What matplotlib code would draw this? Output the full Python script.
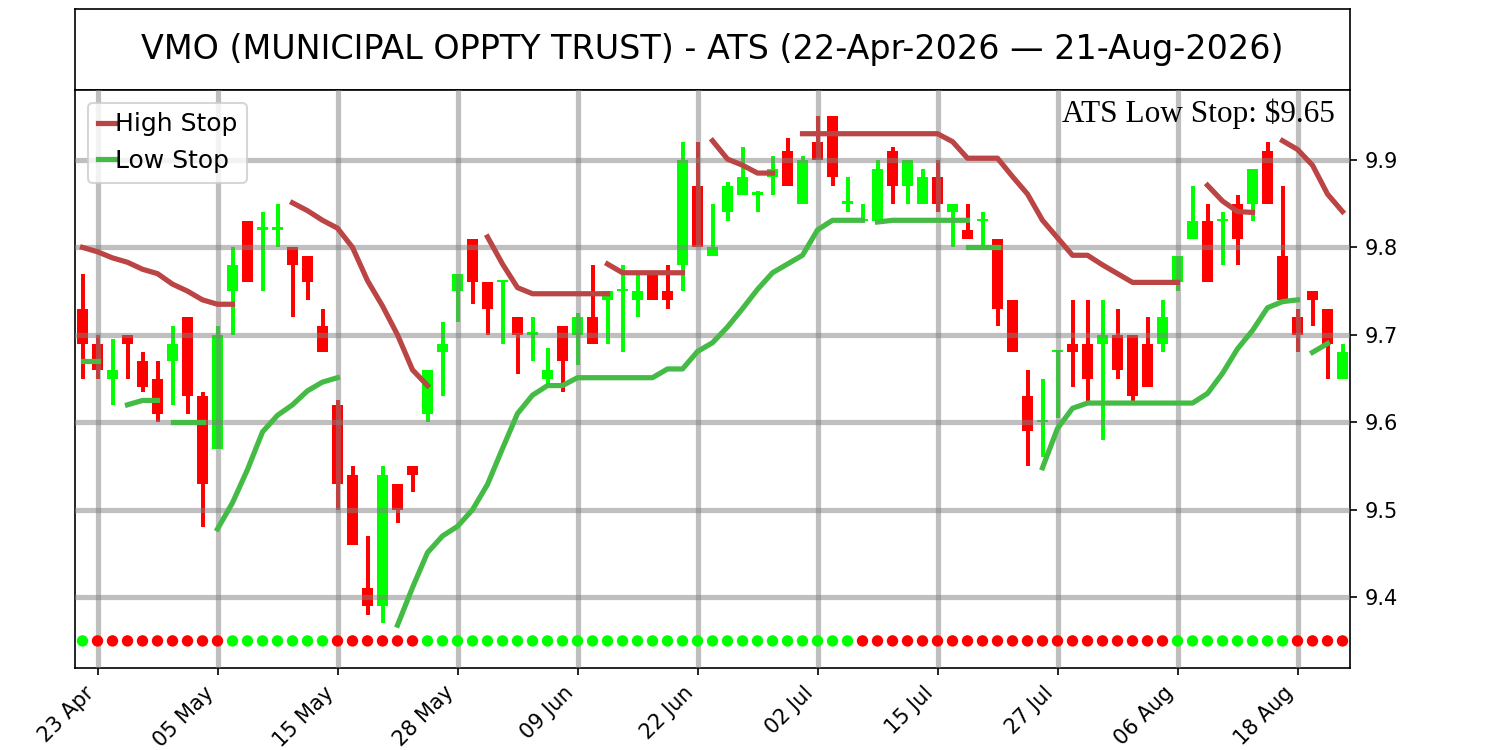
import matplotlib
matplotlib.use("Agg")
import matplotlib.pyplot as plt

# OHLC per trading day, 22-Apr-2026 .. 21-Aug-2026 (85 bars)
opens = [9.73, 9.69, 9.65, 9.70, 9.67, 9.65, 9.67, 9.72, 9.63, 9.57,
         9.75, 9.83, 9.82, 9.82, 9.80, 9.79, 9.71, 9.62, 9.54, 9.41,
         9.39, 9.53, 9.55, 9.61, 9.68, 9.75, 9.81, 9.76, 9.76, 9.72,
         9.70, 9.65, 9.71, 9.70, 9.72, 9.74, 9.75, 9.74, 9.77, 9.75,
         9.78, 9.87, 9.79, 9.84, 9.86, 9.86, 9.88, 9.91, 9.85, 9.92,
         9.95, 9.85, 9.83, 9.83, 9.91, 9.87, 9.85, 9.88, 9.84, 9.82,
         9.83, 9.81, 9.74, 9.63, 9.60, 9.68, 9.69, 9.69, 9.69, 9.70,
         9.70, 9.69, 9.69, 9.76, 9.81, 9.83, 9.83, 9.85, 9.85, 9.91,
         9.79, 9.72, 9.75, 9.73, 9.65]
highs = [9.77, 9.70, 9.695, 9.70, 9.68, 9.67, 9.71, 9.72, 9.635, 9.71,
         9.80, 9.83, 9.84, 9.85, 9.80, 9.79, 9.73, 9.625, 9.55, 9.47,
         9.55, 9.53, 9.55, 9.66, 9.715, 9.77, 9.81, 9.76, 9.762, 9.72,
         9.72, 9.685, 9.71, 9.725, 9.78, 9.75, 9.78, 9.77, 9.77, 9.78,
         9.92, 9.92, 9.85, 9.875, 9.915, 9.865, 9.905, 9.925, 9.905, 9.95,
         9.95, 9.88, 9.85, 9.90, 9.915, 9.90, 9.89, 9.90, 9.85, 9.85,
         9.84, 9.81, 9.74, 9.66, 9.65, 9.681, 9.74, 9.74, 9.74, 9.73,
         9.70, 9.72, 9.74, 9.79, 9.87, 9.85, 9.84, 9.86, 9.89, 9.92,
         9.87, 9.73, 9.75, 9.73, 9.69]
lows = [9.65, 9.65, 9.62, 9.65, 9.635, 9.60, 9.62, 9.61, 9.48, 9.57,
        9.70, 9.76, 9.75, 9.80, 9.72, 9.74, 9.68, 9.50, 9.46, 9.38,
        9.37, 9.485, 9.52, 9.60, 9.63, 9.715, 9.735, 9.70, 9.69, 9.655,
        9.67, 9.64, 9.635, 9.665, 9.69, 9.69, 9.68, 9.72, 9.74, 9.73,
        9.75, 9.80, 9.79, 9.83, 9.86, 9.84, 9.86, 9.87, 9.85, 9.90,
        9.87, 9.84, 9.83, 9.83, 9.85, 9.85, 9.85, 9.84, 9.80, 9.81,
        9.80, 9.71, 9.68, 9.55, 9.56, 9.605, 9.64, 9.62, 9.58, 9.65,
        9.62, 9.64, 9.68, 9.75, 9.81, 9.76, 9.78, 9.78, 9.83, 9.85,
        9.74, 9.68, 9.71, 9.65, 9.65]
closes = [9.69, 9.66, 9.66, 9.69, 9.64, 9.61, 9.69, 9.63, 9.53, 9.70,
          9.78, 9.76, 9.82, 9.82, 9.78, 9.76, 9.68, 9.53, 9.46, 9.39,
          9.54, 9.50, 9.54, 9.66, 9.69, 9.77, 9.76, 9.73, 9.76, 9.70,
          9.70, 9.66, 9.67, 9.72, 9.69, 9.75, 9.75, 9.75, 9.74, 9.74,
          9.90, 9.80, 9.80, 9.87, 9.88, 9.86, 9.89, 9.87, 9.90, 9.90,
          9.88, 9.85, 9.83, 9.89, 9.87, 9.90, 9.88, 9.85, 9.85, 9.81,
          9.83, 9.73, 9.68, 9.59, 9.60, 9.68, 9.68, 9.65, 9.70, 9.66,
          9.63, 9.64, 9.72, 9.79, 9.83, 9.76, 9.83, 9.81, 9.89, 9.85,
          9.74, 9.70, 9.74, 9.69, 9.68]

# stop lines: (first bar index, values)
high_stop_segments = [
    (0, [9.80, 9.795, 9.788, 9.783, 9.775, 9.77, 9.758, 9.75, 9.74, 9.735, 9.735]),
    (14, [9.851, 9.842, 9.831, 9.822, 9.80, 9.762, 9.733, 9.70, 9.66, 9.642]),
    (27, [9.812, 9.781, 9.754, 9.747, 9.747, 9.747, 9.747, 9.747, 9.747]),
    (35, [9.781, 9.771, 9.771, 9.771, 9.771, 9.771]),
    (42, [9.922, 9.901, 9.894, 9.885, 9.885]),
    (48, [9.93, 9.93, 9.93, 9.93, 9.93, 9.93, 9.93, 9.93, 9.93, 9.93,
          9.921, 9.902, 9.902, 9.902, 9.881, 9.861, 9.831, 9.811, 9.791, 9.791,
          9.78, 9.77, 9.76, 9.76, 9.76, 9.76]),
    (75, [9.871, 9.853, 9.841, 9.84]),
    (80, [9.922, 9.912, 9.894, 9.861, 9.841]),
]
low_stop_segments = [
    (0, [9.67, 9.67]),
    (3, [9.62, 9.625, 9.625]),
    (6, [9.60, 9.60, 9.60]),
    (9, [9.478, 9.508, 9.546, 9.589, 9.608, 9.62, 9.636, 9.646, 9.651]),
    (21, [9.368, 9.411, 9.451, 9.47, 9.481, 9.50, 9.529, 9.57, 9.61, 9.631,
          9.642, 9.642, 9.651, 9.651, 9.651, 9.651, 9.651, 9.651, 9.661, 9.661,
          9.681, 9.691, 9.709, 9.73, 9.752, 9.771, 9.781, 9.791, 9.82, 9.831,
          9.831, 9.831]),
    (53, [9.829, 9.831, 9.831, 9.831, 9.831, 9.831, 9.831]),
    (59, [9.80, 9.80, 9.80]),
    (64, [9.548, 9.593, 9.616, 9.622, 9.622, 9.622, 9.622, 9.622, 9.622, 9.622,
          9.622, 9.633, 9.656, 9.684, 9.705, 9.731, 9.738, 9.74]),
    (82, [9.68, 9.69]),
]

# trend state for the dot row (run lengths)
trend_runs = [("up", 1), ("down", 9), ("up", 7), ("down", 6), ("up", 29),
              ("down", 21), ("up", 8), ("down", 4)]
dot_level = 9.35

tick_pos = [1, 9, 17, 25, 33, 41, 49, 57, 65, 73, 81]
tick_labels = ["23 Apr", "05 May", "15 May", "28 May", "09 Jun", "22 Jun",
               "02 Jul", "15 Jul", "27 Jul", "06 Aug", "18 Aug"]
title = "VMO (MUNICIPAL OPPTY TRUST) - ATS (22-Apr-2026 \u2014 21-Aug-2026)"
stop_text = "ATS Low Stop: \\$9.65"

UP = "#00ff00"
DOWN = "#ff0000"

fig = plt.figure(figsize=(10, 5), dpi=150)

# title box
ax_t = fig.add_axes([0.05, 0.88, 0.85, 0.108])
ax_t.set_xticks([])
ax_t.set_yticks([])
ax_t.text(0.5, 0.5, title, ha="center", va="center", fontsize=16,
          transform=ax_t.transAxes)

ax = fig.add_axes([0.05, 0.1093, 0.85, 0.7707])

x = list(range(len(opens)))
colors = [UP if c >= o else DOWN for o, c in zip(opens, closes)]
bottoms = [min(o, c) for o, c in zip(opens, closes)]
heights = [max(abs(c - o), 0.003) for o, c in zip(opens, closes)]

ax.vlines(x, lows, highs, colors=colors, linewidth=1.9, zorder=1)
ax.bar(x, heights, bottom=bottoms, width=0.7, color=colors, zorder=1)

for k, (start, vals) in enumerate(high_stop_segments):
    ax.plot(range(start, start + len(vals)), vals, color="#bb4444", lw=2.5,
            zorder=3, label="High Stop" if k == 0 else None)
for k, (start, vals) in enumerate(low_stop_segments):
    ax.plot(range(start, start + len(vals)), vals, color="#44bb44", lw=2.5,
            zorder=3, label="Low Stop" if k == 0 else None)

dot_colors = []
for state, n in trend_runs:
    dot_colors += [UP if state == "up" else DOWN] * n
ax.scatter(x, [dot_level] * len(x), c=dot_colors, s=30, zorder=3, linewidths=0)

ax.grid(True, color="gray", alpha=0.5, linewidth=2.5)
ax.set_axisbelow(False)

ax.set_xlim(-0.5, len(opens) - 0.5)
ax.set_ylim(9.319, 9.98)
ax.yaxis.tick_right()
ax.set_yticks([9.4, 9.5, 9.6, 9.7, 9.8, 9.9])
ax.set_xticks(tick_pos)
ax.set_xticklabels(tick_labels, rotation=45, ha="right")

ax.legend(loc="upper left", fontsize=12, handlelength=0.7, handletextpad=0.0)
ax.text(0.988, 0.985, stop_text, ha="right", va="top", transform=ax.transAxes,
        family="Liberation Serif", fontsize=15)

fig.savefig("out.png", dpi=150)
